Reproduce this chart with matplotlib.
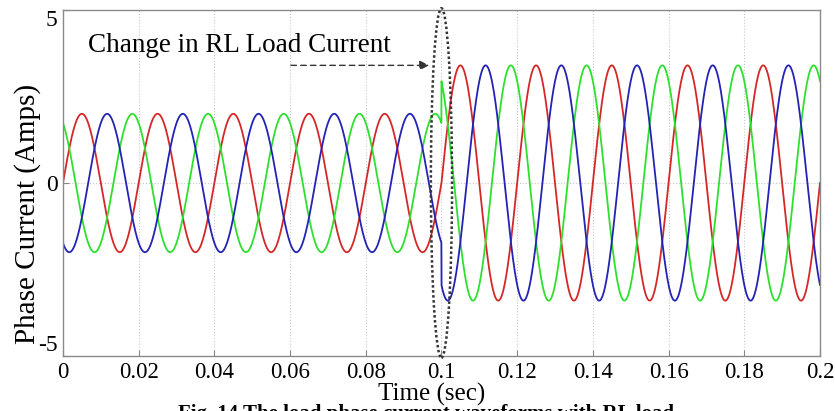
import numpy as np
import matplotlib.pyplot as plt
from matplotlib.patches import Ellipse

# values
freq_hz = 50.0
t_change = 0.1
amp_before = 2.0
amp_after = 3.4
phase_names = ["a", "b", "c"]
phase_deg = [0.0, 120.0, -120.0]
phase_colors = ["#d42828", "#2ee02e", "#2323b4"]

x_ticks = [0, 0.02, 0.04, 0.06, 0.08, 0.1, 0.12, 0.14, 0.16, 0.18, 0.2]
x_labels = ["0", "0.02", "0.04", "0.06", "0.08", "0.1", "0.12", "0.14", "0.16", "0.18", "0.2"]
y_ticks = [-5, 0, 5]
y_labels = ["-5", "0", "5"]

plt.rcParams["font.family"] = ["Liberation Serif", "DejaVu Serif"]

fig = plt.figure(figsize=(8.35, 4.11), dpi=100)
ax = fig.add_axes([0.0754, 0.1338, 0.9066, 0.8419])

t = np.linspace(0, 0.2, 8001)
amp = np.where(t < t_change, amp_before, amp_after)
for name, ph, col in zip(phase_names, phase_deg, phase_colors):
    i = amp * np.sin(2 * np.pi * freq_hz * t + np.deg2rad(ph))
    ax.plot(t, i, color=col, lw=1.3, label=name)

ax.set_xlim(0, 0.2)
ax.set_ylim(-5, 5)
ax.set_xticks(x_ticks)
ax.set_xticklabels(x_labels)
ax.set_yticks(y_ticks)
ax.set_yticklabels(y_labels)
ax.tick_params(direction="in", length=4, color="#888888", labelsize=17)
ax.tick_params(axis="x", pad=4, labelsize=16.5)
ax.tick_params(axis="y", pad=4)

# matlab-like placement of the end labels on the y axis
ylabs = ax.get_yticklabels()
ylabs[0].set_va("bottom")
ylabs[2].set_va("top")

# dotted grid (vertical at each tick, horizontal at zero)
for xt in x_ticks[1:-1]:
    ax.axvline(xt, color="#c8c8c8", lw=0.8, ls=":", zorder=0)
ax.axhline(0, color="#c8c8c8", lw=0.8, ls=":", zorder=0)

for s in ax.spines.values():
    s.set_color("#8a8a8a")
    s.set_linewidth(1.0)

ax.set_xlabel("Time (sec)", fontsize=18)
ax.xaxis.set_label_coords(0.487, -0.077, transform=ax.transAxes)
ax.xaxis.label.set_va("top")
ax.set_ylabel("Phase Current (Amps)", fontsize=21)
ax.yaxis.set_label_coords(-0.029, 0.41)

# marker around the load change
ell = Ellipse((0.1, 0.0), 0.0056, 10.1, fill=False, ec="#333333",
              ls=(0, (1, 1)), lw=1.8, clip_on=False, zorder=5)
ax.add_patch(ell)

ax.text(0.0065, 3.97, "Change in RL Load Current", fontsize=19.5, va="center")
ax.annotate("", xy=(0.0975, 3.4), xytext=(0.0595, 3.4),
            arrowprops=dict(arrowstyle="-|>", color="#333333", lw=1.0,
                            ls=(0, (4, 3)), mutation_scale=14))

# figure caption, cut by the bottom edge as in the source image
fig.text(0.51, 0.018, "Fig. 14 The load phase current waveforms with RL load",
         fontsize=15, fontweight="bold", ha="center", va="top")

fig.savefig("out.png", dpi=100)
